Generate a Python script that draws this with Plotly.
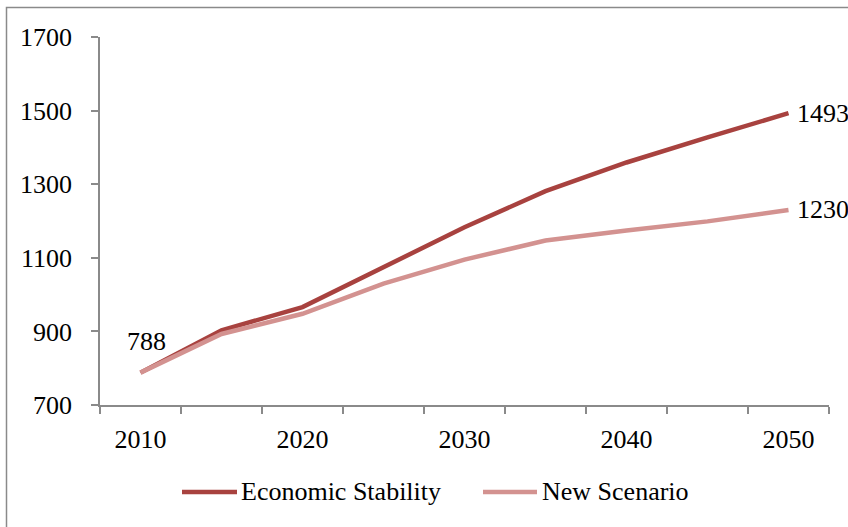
import plotly.graph_objects as go

years = [2010, 2015, 2020, 2025, 2030, 2035, 2040, 2045, 2050]
economic_stability = [788, 903, 966, 1075, 1183, 1281, 1359, 1427, 1493]
new_scenario = [788, 893, 948, 1030, 1095, 1147, 1174, 1199, 1230]
series_names = ["Economic Stability", "New Scenario"]
label_years = [2010, 2020, 2030, 2040, 2050]
y_ticks = [700, 900, 1100, 1300, 1500, 1700]

ECO_COLOR = "#A8423F"
NEW_COLOR = "#D39290"
AXIS_COLOR = "#8A8A8A"
FONT = "Liberation Serif"

# plot-area geometry in pixels
W, H = 848, 527
L, R, T, B = 100, 19, 37, 122
PW, PH = W - L - R, H - T - B


def px_x(px):
    return (px - L) / PW


def px_y(py):
    return (H - B - py) / PH


fig = go.Figure()
fig.add_trace(go.Scatter(
    x=years, y=economic_stability, mode="lines", name=series_names[0],
    line=dict(color=ECO_COLOR, width=4.5), showlegend=False,
))
fig.add_trace(go.Scatter(
    x=years, y=new_scenario, mode="lines", name=series_names[1],
    line=dict(color=NEW_COLOR, width=4.5), showlegend=False,
))

label_font = dict(size=26, color="black", family=FONT)
# value labels: first point, and the end of each series
fig.add_annotation(x=years[0], y=new_scenario[0], text=str(new_scenario[0]),
                   showarrow=False, xanchor="center", yanchor="middle",
                   xshift=6, yshift=31, font=label_font)
fig.add_annotation(x=years[-1], y=economic_stability[-1], text=str(economic_stability[-1]),
                   showarrow=False, xanchor="left", yanchor="middle",
                   xshift=6, yshift=0, font=label_font)
fig.add_annotation(x=years[-1], y=new_scenario[-1], text=str(new_scenario[-1]),
                   showarrow=False, xanchor="left", yanchor="middle",
                   xshift=6, yshift=0, font=label_font)

# legend below the axis: line sample followed by series name
legend_y = px_y(492)
for (x0, x1, tx), name, color in zip(
        [(182, 237, 239), (483, 537, 540)], series_names, [ECO_COLOR, NEW_COLOR]):
    fig.add_shape(type="line", xref="paper", yref="paper",
                  x0=px_x(x0), x1=px_x(x1), y0=legend_y, y1=legend_y,
                  line=dict(color=color, width=4.5))
    fig.add_annotation(xref="paper", yref="paper", x=px_x(tx), y=legend_y,
                       text=name, showarrow=False, xanchor="left", yanchor="middle",
                       font=label_font)

# category boundaries for the tick marks
step = years[1] - years[0]
boundaries = [y - step / 2 for y in years] + [years[-1] + step / 2]

fig.update_xaxes(
    range=[boundaries[0], boundaries[-1]],
    tickvals=label_years, ticktext=[str(v) for v in label_years],
    ticks="", showgrid=False, zeroline=False,
    showline=True, linecolor=AXIS_COLOR, linewidth=1.5,
    tickfont=label_font,
    ticklabelstandoff=10,
    minor=dict(tickvals=boundaries, ticks="outside", ticklen=7,
               tickcolor=AXIS_COLOR, tickwidth=1.5, showgrid=False),
)
fig.update_yaxes(
    range=[700, 1700], tickvals=y_ticks,
    ticks="outside", ticklen=7, tickcolor=AXIS_COLOR, tickwidth=1.5,
    showgrid=False, zeroline=False,
    showline=True, linecolor=AXIS_COLOR, linewidth=1.5,
    tickfont=label_font,
    ticklabelstandoff=14,
)

# outer chart frame
fig.add_shape(type="rect", xref="paper", yref="paper",
              x0=px_x(6.5), x1=1.2, y0=-0.5, y1=px_y(7.5),
              line=dict(color=AXIS_COLOR, width=1.5), layer="below")

fig.update_layout(
    width=W, height=H,
    margin=dict(l=L, r=R, t=T, b=B),
    paper_bgcolor="white", plot_bgcolor="white",
    font=dict(family=FONT, size=26, color="black"),
    showlegend=False,
)

fig.write_html("out.html")
